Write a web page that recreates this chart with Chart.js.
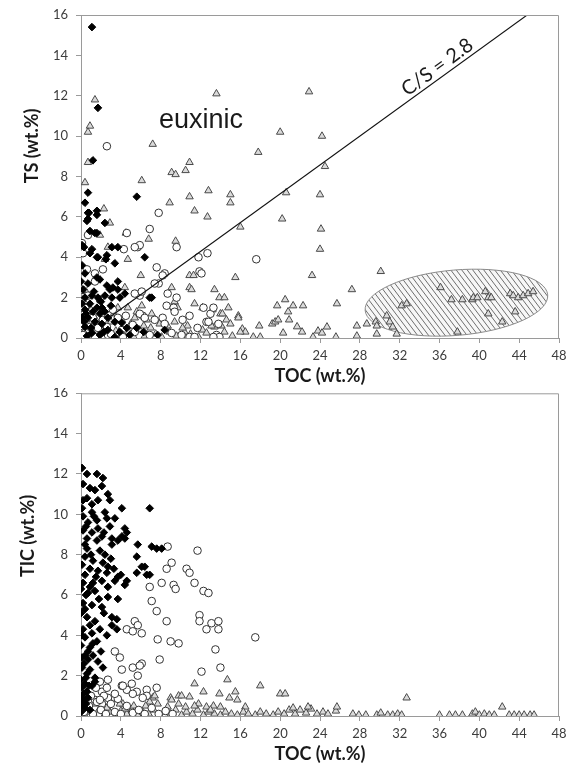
<!DOCTYPE html>
<html>
<head>
<meta charset="utf-8">
<script src="https://cdn.jsdelivr.net/npm/chart.js@4.4.1/dist/chart.umd.min.js"></script>
<style>
  html, body { margin: 0; padding: 0; background: #fff; }
  #wrap { position: relative; width: 571px; height: 765px; overflow: hidden; }
  #topBox { position: absolute; left: 0; top: 0; }
  #botBox { position: absolute; left: 0; top: 388px; }
</style>
</head>
<body>
<div id="wrap">
  <div id="topBox"><canvas id="tsChart" width="571" height="388"></canvas></div>
  <div id="botBox"><canvas id="ticChart" width="571" height="377"></canvas></div>
</div>
<script>
// ---------------------------------------------------
// Data: [TOC, value] pairs
// ---------------------------------------------------
var tocTicks = [0, 4, 8, 12, 16, 20, 24, 28, 32, 36, 40, 44, 48];
var valueTicks = [0, 2, 4, 6, 8, 10, 12, 14, 16];

// TS vs TOC
var tsDiamonds = [
  [1.1,15.4],[1.7,11.4],[1.2,8.8],[0.7,7.2],[0.4,6.7],[0.7,6.2],[1.6,6.3],[1.6,6.1],[5.6,7.0],[0.6,5.8],
  [0.9,5.3],[2.4,5.7],[1.6,5.2],[0.9,4.2],[1.6,4.0],[3.1,4.5],[3.7,4.5],[2.6,4.1],[3.4,3.7],[6.4,4.0],
  [0.4,3.2],[1.9,2.9],[3.2,2.5],[3.7,2.4],[3.9,2.0],[7.1,2.0],[0.8,6.2],[0.7,5.9],[1.4,5.2],[0.1,4.6],
  [0.3,4.5],[1.1,4.4],[1.7,4.0],[2.5,3.9],[0.1,3.6],[1.6,3.0],[0.0,2.8],[0.7,2.7],[2.6,2.6],[2.9,2.4],
  [3.7,2.8],[4.4,2.2],[3.1,2.0],[0.4,2.0],[1.1,2.1],[1.7,2.0],[2.4,2.1],[0.1,1.7],[0.9,1.7],[1.6,1.5],
  [2.1,1.5],[0.4,1.4],[1.2,1.3],[1.9,1.2],[0.1,1.0],[0.7,1.0],[2.7,1.0],[1.4,0.8],[2.1,0.7],[3.4,0.8],
  [4.1,0.75],[0.4,0.55],[4.6,0.5],[6.9,2.0],[8.4,0.4],[2.7,0.4],[1.1,0.25],[1.9,0.15],[3.4,0.05],[4.9,0.15],
  [7.7,0.15],[0.2,2.4],[1.3,2.3],[2.0,1.8],[0.5,1.2],[2.4,1.3],[3.0,1.6],[0.3,0.8],[1.0,0.5],[2.3,0.3],
  [3.9,0.3],[5.6,0.5],[6.3,0.3],[0.6,0.1]
];
var tsCircles = [
  [2.6,9.5],[7.8,6.2],[4.6,5.2],[5.7,4.5],[5.9,4.6],[6.9,5.4],[4.3,4.4],[2.2,3.4],[7.6,3.5],[9.6,4.5],
  [11.8,4.0],[12.7,4.2],[11.9,3.3],[17.6,3.9],[7.8,2.7],[5.9,2.1],[8.4,3.2],[9.6,2.0],[8.6,1.6],[9.3,1.5],
  [12.3,1.5],[6.2,1.1],[12.6,0.8],[13.6,0.15],[13.9,0.05],[10.9,0.05],[0.1,4.7],[0.7,5.1],[0.2,4.2],[0.6,3.4],
  [0.4,1.5],[2.2,0.9],[5.4,4.5],[8.2,3.1],[7.4,2.7],[1.4,2.8],[1.4,3.2],[5.4,2.2],[6.1,2.3],[8.7,2.2],
  [10.9,1.1],[13.0,1.2],[5.9,1.2],[6.4,1.0],[7.4,0.9],[8.2,1.0],[10.2,0.9],[11.7,0.5],[13.3,0.05],[11.4,0.05],
  [0.1,2.4],[0.7,2.1],[0.0,1.5],[0.6,1.2],[1.2,1.0],[3.7,1.0],[0.0,0.6],[0.9,0.55],[1.7,0.5],[2.6,0.55],
  [4.1,0.4],[5.2,0.65],[5.4,0.3],[6.9,0.15],[0.2,0.15],[1.4,0.05],[2.7,0.15],[4.2,0.05],[9.1,0.25],[10.1,0.15],
  [8.4,0.7],[9.4,1.3],[12.1,3.2],[13.3,1.5],[13.8,0.7],[12.8,0.8],[3.2,1.4],[4.5,1.1],[1.9,1.9],[3.0,0.2]
];
var tsTriangles = [
  [1.4,11.8],[0.9,10.5],[0.7,10.2],[0.7,8.7],[0.4,7.7],[13.6,12.1],[7.2,9.6],[6.1,7.8],[9.1,8.2],[9.5,8.1],
  [10.5,8.3],[10.9,8.7],[17.8,9.2],[20.0,10.2],[20.6,7.2],[10.9,7.0],[12.8,7.3],[15.0,7.1],[22.9,12.2],[24.2,10.0],
  [24.5,8.5],[24.0,7.1],[20.2,5.9],[24.1,5.4],[24.0,4.4],[23.2,3.1],[30.1,3.3],[27.2,2.4],[20.5,1.9],[21.3,1.6],
  [20.8,1.3],[22.3,1.6],[25.7,1.7],[20.9,0.9],[21.7,0.56],[22.2,0.3],[20.3,0.25],[23.3,0.05],[23.8,0.35],[24.2,0.25],
  [24.7,0.55],[25.6,0.05],[27.7,0.6],[27.7,0.1],[28.7,0.7],[29.6,0.8],[29.7,0.6],[29.7,0.2],[30.7,1.1],[31.0,0.8],
  [31.3,0.55],[31.7,0.2],[32.2,1.6],[32.7,1.7],[36.1,2.5],[37.2,1.9],[38.3,1.9],[39.3,1.9],[39.4,2.0],[39.8,2.0],
  [40.6,2.3],[40.9,2.0],[41.2,2.0],[40.9,1.2],[42.3,0.8],[37.8,0.3],[43.1,2.2],[43.4,2.1],[43.9,2.0],[44.4,2.1],
  [44.9,2.2],[45.4,2.3],[43.6,1.3],[15.0,6.7],[12.7,6.0],[16.0,5.5],[15.5,3.0],[13.4,2.4],[13.9,2.0],[14.4,2.0],
  [14.8,1.5],[15.8,1.1],[15.8,1.0],[14.0,1.2],[14.6,0.9],[15.0,0.7],[14.1,0.6],[16.2,0.45],[16.5,0.3],[17.9,0.6],
  [17.3,0.05],[18.0,0.05],[19.7,1.6],[19.2,0.7],[19.5,0.8],[19.8,0.9],[8.9,6.7],[11.4,6.3],[2.3,6.4],[2.9,5.7],
  [4.5,5.2],[1.9,5.1],[6.8,4.9],[9.5,4.8],[2.7,4.5],[4.7,3.9],[2.4,3.9],[6.0,3.1],[9.1,2.5],[10.9,3.1],
  [11.3,3.1],[10.9,2.5],[11.1,2.4],[4.4,2.5],[6.1,1.6],[7.1,1.2],[9.4,1.8],[9.7,1.5],[11.4,1.7],[12.2,1.5],
  [13.2,1.4],[14.2,1.2],[3.7,1.5],[4.7,1.5],[5.4,1.0],[6.6,0.9],[7.9,0.7],[8.7,0.6],[9.4,0.8],[10.7,0.6],
  [12.2,0.4],[13.4,0.55],[10.4,0.3],[0.3,0.3],[0.8,0.1],[1.3,0.5],[1.8,0.2],[2.3,0.6],[2.9,0.15],[3.5,0.35],
  [4.0,0.1],[4.8,0.3],[5.3,0.05],[5.9,0.4],[6.4,0.1],[7.0,0.5],[7.5,0.2],[8.1,0.05],[8.9,0.3],[9.6,0.1],
  [10.2,0.5],[11.0,0.2],[11.8,0.05],[12.6,0.25],[13.1,0.6],[14.4,0.3],[15.2,0.1],[16.0,0.3],[0.5,0.9],[1.0,1.4],
  [0.2,1.9],[1.5,0.9],[2.0,1.3],[3.0,0.8],[3.3,1.2],[4.1,0.9],[5.0,0.7],[5.6,1.3],[6.3,0.6],[0.5,2.3]
];

// TIC vs TOC
var ticDiamonds = [
  [0.1,12.3],[0.6,12.0],[1.6,12.0],[2.2,11.8],[0.2,11.5],[0.9,11.3],[1.4,11.2],[2.1,11.4],[2.7,11.0],[2.9,10.7],
  [4.1,10.3],[6.9,10.3],[0.1,10.3],[0.6,10.8],[1.1,10.5],[1.7,10.7],[0.2,9.9],[1.1,10.1],[2.4,10.1],[2.6,9.8],
  [3.4,9.8],[0.7,9.6],[1.6,9.7],[1.7,9.3],[2.9,9.4],[4.4,9.3],[4.6,9.1],[0.2,9.2],[1.1,9.1],[2.1,8.9],
  [3.1,8.8],[0.6,8.8],[1.6,8.7],[4.1,8.9],[3.7,8.7],[4.4,8.8],[3.1,8.5],[5.7,8.5],[7.1,8.4],[7.6,8.3],
  [8.1,8.3],[5.6,7.9],[0.6,8.3],[0.4,7.9],[2.4,8.0],[1.2,7.7],[2.2,7.6],[2.7,7.4],[6.1,7.4],[6.4,7.4],
  [0.9,7.3],[1.7,7.2],[2.6,7.1],[5.6,7.1],[6.6,7.0],[6.9,7.0],[0.4,7.0],[3.4,6.7],[3.7,6.9],[4.4,6.5],
  [0.2,6.6],[1.2,6.6],[2.1,6.7],[2.7,6.4],[0.9,6.4],[0.0,6.3],[0.7,6.1],[1.4,6.2],[2.7,5.9],[3.7,5.8],
  [0.2,5.6],[1.1,5.5],[2.1,5.4],[3.1,4.9],[3.6,4.8],[3.1,4.5],[3.6,4.3],[0.0,5.1],[0.6,4.9],[1.4,4.7],
  [0.2,4.3],[1.1,4.1],[1.9,4.3],[2.6,4.0],[0.4,3.9],[0.0,3.5],[0.9,3.4],[1.2,3.0],[0.1,2.9],[0.7,2.8],
  [1.7,2.7],[2.2,2.4],[0.1,2.4],[0.6,2.1],[0.0,1.8],[0.4,1.6],[1.1,1.5],[0.1,1.4],[0.6,1.2],[0.0,1.0],
  [0.2,0.8],[0.7,0.9],[0.1,0.55],[0.4,0.4],[0.0,0.2],[1.4,1.9],[1.4,1.7],[0.7,3.2],[1.2,3.6],[0.3,2.6],
  [0.5,1.9],[0.9,2.3],[0.3,1.1],[0.8,1.5],[0.5,0.6],[0.9,0.3],[0.2,10.7],[1.3,9.9],[0.5,9.4],[2.3,9.1],
  [0.4,8.5],[1.9,8.2],[1.0,8.0],[3.0,7.8],[0.1,7.5],[3.3,7.3],[4.0,7.0],[1.5,6.9],[0.5,6.0],[1.8,5.8],
  [0.4,5.3],[2.3,5.1],[0.9,4.5],[0.1,4.0],[1.6,3.7],[2.0,3.2],[0.4,3.0],[4.6,6.7]
];
var ticCircles = [
  [8.7,8.4],[11.7,8.2],[9.1,7.6],[8.6,7.3],[10.6,7.3],[10.9,7.1],[11.4,6.6],[12.3,6.2],[12.8,6.1],[6.9,6.4],
  [8.1,6.6],[9.3,6.5],[9.5,6.3],[7.1,5.7],[7.6,5.2],[8.6,4.7],[11.9,5.0],[11.9,4.7],[12.6,4.3],[13.1,4.6],
  [13.8,4.7],[13.8,4.3],[5.4,4.7],[4.6,4.3],[5.2,4.2],[6.1,4.1],[5.7,4.5],[7.7,3.8],[9.0,3.7],[9.8,3.6],
  [13.5,3.3],[17.5,3.9],[3.4,3.2],[3.9,2.9],[7.9,2.8],[6.1,2.6],[5.2,2.4],[4.1,2.3],[5.7,2.0],[14.0,2.4],
  [12.1,2.2],[1.9,1.7],[2.7,1.8],[2.1,1.2],[2.6,1.4],[4.1,1.5],[4.6,1.3],[5.1,1.6],[5.6,1.2],[6.6,1.3],
  [7.6,1.4],[6.6,1.0],[3.4,0.9],[3.7,0.85],[5.9,2.5],[4.2,1.5],[6.2,0.9],[5.2,1.1],[3.4,1.1],[2.7,0.9],
  [1.4,0.8],[2.1,0.6],[0.3,0.2],[0.8,0.5],[1.2,0.1],[1.6,0.7],[2.0,0.3],[2.5,0.1],[3.0,0.6],[3.4,0.2],
  [4.0,0.1],[4.6,0.5],[5.2,0.15],[5.8,0.3],[6.4,0.1],[7.1,0.4],[7.8,0.1],[8.5,0.25],[9.2,0.1],[1.0,1.0],
  [1.5,1.4],[2.3,1.0],[1.9,0.8]
];
var ticTriangles = [
  [11.4,1.6],[12.3,1.2],[14.7,1.8],[18.0,1.5],[13.9,1.1],[14.9,0.9],[15.5,1.2],[15.7,0.8],[16.5,0.45],[13.3,0.5],
  [14.0,0.45],[11.8,0.6],[10.9,0.95],[9.8,1.0],[9.0,0.9],[7.2,0.9],[6.9,0.7],[4.2,0.6],[20.0,1.1],[20.5,1.1],
  [0.3,0.1],[0.8,0.2],[1.3,0.05],[1.8,0.3],[2.4,0.1],[2.9,0.2],[3.5,0.05],[4.0,0.25],[4.6,0.1],[5.1,0.3],
  [5.7,0.05],[6.2,0.2],[6.8,0.1],[7.3,0.3],[7.9,0.05],[8.4,0.2],[9.0,0.1],[9.5,0.3],[10.1,0.05],[10.6,0.2],
  [11.2,0.1],[11.7,0.3],[12.3,0.05],[12.8,0.2],[13.4,0.1],[14.0,0.05],[14.5,0.2],[15.1,0.1],[15.7,0.05],[16.3,0.2],
  [16.8,0.1],[17.5,0.05],[18.0,0.2],[18.6,0.1],[19.3,0.05],[19.8,0.2],[20.4,0.1],[20.9,0.3],[21.5,0.1],[22.0,0.3],
  [22.6,0.15],[23.1,0.35],[23.7,0.1],[24.3,0.2],[24.8,0.1],[25.6,0.25],[25.7,0.45],[27.3,0.1],[27.9,0.05],[28.6,0.05],
  [29.7,0.05],[30.1,0.15],[30.8,0.05],[31.3,0.05],[31.8,0.1],[32.2,0.05],[32.7,0.9],[36.0,0.05],[37.0,0.05],[37.6,0.05],
  [38.3,0.05],[39.3,0.1],[39.6,0.2],[40.0,0.05],[40.5,0.1],[41.0,0.05],[41.5,0.05],[42.3,0.45],[43.0,0.05],[43.5,0.05],
  [44.0,0.05],[44.5,0.05],[45.1,0.05],[45.5,0.05],[22.8,0.45],[21.3,0.4],[0.5,0.5],[1.5,0.6],[2.6,0.4],[3.9,0.6],
  [5.3,0.5],[6.5,0.5],[7.7,0.6],[8.7,0.45],[9.8,0.6],[10.5,0.45],[11.4,0.5],[12.6,0.45],[13.0,0.3],[4.4,0.35],
  [9.1,0.8],[10.1,1.0],[7.4,1.0]
];

// C/S = 2.8 reference line (TS = TOC / 2.8)
var csLine = [[2.8, 1.0], [44.8, 16.0]];

// ---------------------------------------------------
// Styling
// ---------------------------------------------------
var FONT = 'Lato, "Open Sans", sans-serif';
var AXIS_GRAY = '#9a9a9a';

function toPoints(pairs) {
  return pairs.map(function(p) { return { x: p[0], y: p[1] }; });
}

function markerSets(diamonds, circles, triangles) {
  return [
    {
      label: 'diamonds', data: toPoints(diamonds), order: 1,
      pointStyle: 'rectRot', pointRadius: 3.8, borderWidth: 1,
      backgroundColor: '#000', borderColor: '#000'
    },
    {
      label: 'circles', data: toPoints(circles), order: 2,
      pointStyle: 'circle', pointRadius: 3.8, borderWidth: 1,
      backgroundColor: '#fff', borderColor: '#333'
    },
    {
      label: 'triangles', data: toPoints(triangles), order: 3,
      pointStyle: 'triangle', pointRadius: 4.3, borderWidth: 1,
      backgroundColor: '#dadada', borderColor: '#4a4a4a'
    }
  ];
}

function buildScales(xHeight, xTitlePad) {
  return {
    x: {
      type: 'linear', min: 0, max: 48,
      afterBuildTicks: function(s) { s.ticks = tocTicks.map(function(v) { return { value: v }; }); },
      ticks: { color: '#3c3c3c', font: { family: FONT, size: 13 }, padding: 5, maxRotation: 0 },
      grid: { drawOnChartArea: false, tickLength: 5, color: AXIS_GRAY },
      border: { color: AXIS_GRAY, width: 1 },
      title: {
        display: true, text: 'TOC (wt.%)', color: '#1a1a1a',
        font: { family: FONT, size: 18, weight: 'bold' },
        padding: { top: 0, bottom: xTitlePad }
      },
      afterFit: function(s) { s.height = xHeight; s.paddingLeft = 0; s.paddingRight = 0; }
    },
    y: {
      type: 'linear', min: 0, max: 16,
      afterBuildTicks: function(s) { s.ticks = valueTicks.map(function(v) { return { value: v }; }); },
      ticks: { color: '#3c3c3c', font: { family: FONT, size: 13 }, padding: 8 },
      grid: { drawOnChartArea: false, tickLength: 5, color: AXIS_GRAY },
      border: { color: AXIS_GRAY, width: 1 },
      afterFit: function(s) { s.width = 81; s.paddingTop = 0; s.paddingBottom = 0; }
    }
  };
}

// top + right frame lines and the rotated y title
var framePlugin = {
  id: 'frame',
  afterDraw: function(chart, args, opts) {
    var ctx = chart.ctx, a = chart.chartArea;
    ctx.save();
    ctx.strokeStyle = AXIS_GRAY;
    ctx.lineWidth = 1;
    ctx.beginPath();
    ctx.moveTo(a.left, a.top + 0.5);
    ctx.lineTo(a.right - 0.5, a.top + 0.5);
    ctx.lineTo(a.right - 0.5, a.bottom);
    ctx.stroke();

    ctx.translate(opts.titleX, opts.titleY);
    ctx.rotate(-Math.PI / 2);
    ctx.fillStyle = '#1a1a1a';
    ctx.font = 'bold 18px ' + FONT;
    ctx.textAlign = 'center';
    ctx.textBaseline = 'middle';
    ctx.fillText(opts.title, 0, 0);
    ctx.restore();
  }
};

// hatched ellipse around the high-TOC cluster
var hatchZone = { toc: 37.7, ts: 1.75, rToc: 9.2, rTs: 1.62, tilt: -0.085 };

var hatchPlugin = {
  id: 'hatch',
  beforeDatasetsDraw: function(chart) {
    var ctx = chart.ctx, xs = chart.scales.x, ys = chart.scales.y;
    var cx = xs.getPixelForValue(hatchZone.toc);
    var cy = ys.getPixelForValue(hatchZone.ts);
    var rx = xs.getPixelForValue(hatchZone.toc + hatchZone.rToc) - cx;
    var ry = cy - ys.getPixelForValue(hatchZone.ts + hatchZone.rTs);
    ctx.save();
    ctx.beginPath();
    ctx.ellipse(cx, cy, rx, ry, hatchZone.tilt, 0, Math.PI * 2);
    ctx.fillStyle = '#f7f7f7';
    ctx.fill();
    ctx.save();
    ctx.clip();
    ctx.strokeStyle = '#6e6e6e';
    ctx.lineWidth = 1;
    ctx.beginPath();
    for (var k = -rx - 2 * ry; k < rx + 2 * ry; k += 5.5) {
      ctx.moveTo(cx + k - ry * 0.8, cy - ry - 2);
      ctx.lineTo(cx + k + ry * 0.8, cy + ry + 2);
    }
    ctx.stroke();
    ctx.restore();
    ctx.beginPath();
    ctx.ellipse(cx, cy, rx, ry, hatchZone.tilt, 0, Math.PI * 2);
    ctx.strokeStyle = '#8a8a8a';
    ctx.lineWidth = 1;
    ctx.stroke();
    ctx.restore();
  }
};

// "euxinic" and "C/S = 2.8" labels
var labelPlugin = {
  id: 'tsLabels',
  afterDatasetsDraw: function(chart) {
    var ctx = chart.ctx, xs = chart.scales.x, ys = chart.scales.y;
    ctx.save();
    ctx.fillStyle = '#1a1a1a';
    ctx.font = '27px "Liberation Sans", Arial, sans-serif';
    ctx.textAlign = 'center';
    ctx.textBaseline = 'alphabetic';
    ctx.fillText('euxinic', xs.getPixelForValue(12.05), ys.getPixelForValue(10.4));

    var x0 = xs.getPixelForValue(csLine[0][0]), y0 = ys.getPixelForValue(csLine[0][1]);
    var x1 = xs.getPixelForValue(csLine[1][0]), y1 = ys.getPixelForValue(csLine[1][1]);
    var ang = Math.atan2(y1 - y0, x1 - x0);
    var at = 36.4;
    ctx.translate(xs.getPixelForValue(at), ys.getPixelForValue(at / 2.8));
    ctx.rotate(ang);
    ctx.font = '20px ' + FONT;
    ctx.fillText('C/S = 2.8', 0, -4);
    ctx.restore();
  }
};

// ---------------------------------------------------
// Charts
// ---------------------------------------------------
var tsSets = markerSets(tsDiamonds, tsCircles, tsTriangles);
tsSets.push({
  type: 'line', label: 'C/S', data: toPoints(csLine), order: 0,
  borderColor: '#111', borderWidth: 1.1, pointRadius: 0, fill: false
});

new Chart(document.getElementById('tsChart'), {
  type: 'scatter',
  data: { datasets: tsSets },
  options: {
    responsive: false,
    animation: false,
    layout: { padding: { left: 0, top: 15, right: 12, bottom: 0 } },
    plugins: {
      legend: { display: false },
      tooltip: { enabled: false },
      frame: { title: 'TS (wt.%)', titleX: 32, titleY: 146 }
    },
    scales: buildScales(50, 1)
  },
  plugins: [hatchPlugin, labelPlugin, framePlugin]
});

new Chart(document.getElementById('ticChart'), {
  type: 'scatter',
  data: { datasets: markerSets(ticDiamonds, ticCircles, ticTriangles) },
  options: {
    responsive: false,
    animation: false,
    layout: { padding: { left: 0, top: 4, right: 12, bottom: 0 } },
    plugins: {
      legend: { display: false },
      tooltip: { enabled: false },
      frame: { title: 'TIC (wt.%)', titleX: 28, titleY: 148 }
    },
    scales: buildScales(49, 0)
  },
  plugins: [framePlugin]
});
</script>
</body>
</html>
